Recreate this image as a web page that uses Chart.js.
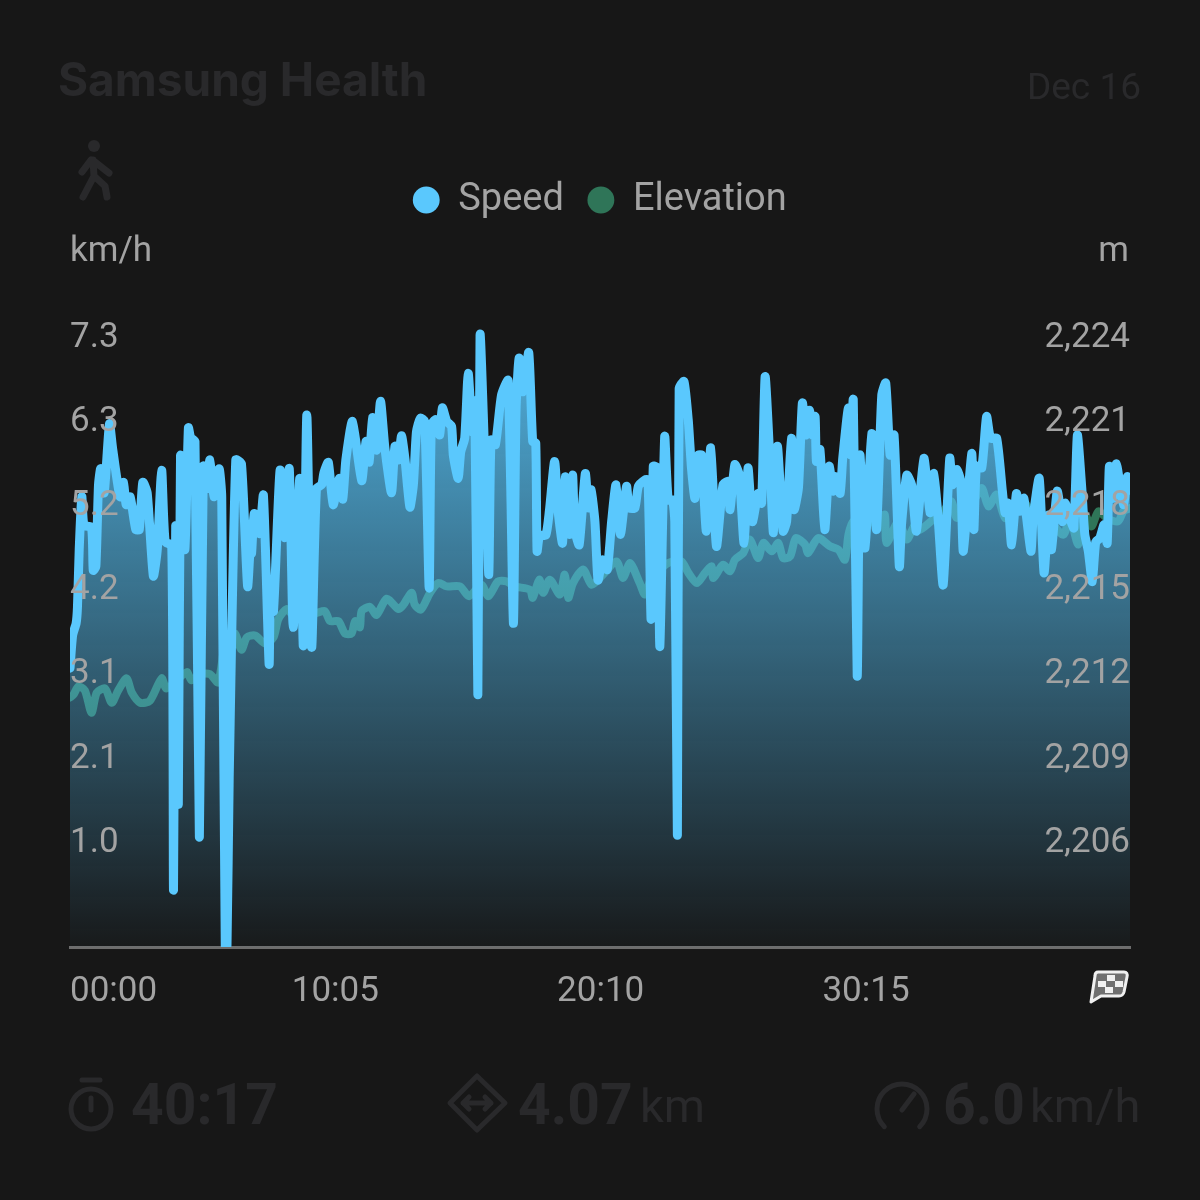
<!DOCTYPE html>
<html>
<head>
<meta charset="utf-8">
<title>Speed and elevation</title>
<script src="https://cdn.jsdelivr.net/npm/chart.js@4"></script>
<style>
  html, body { margin: 0; background: #171717; }
  canvas { display: block; }
</style>
</head>
<body>
<canvas id="chart" width="1200" height="1200" style="width:1200px;height:1200px"></canvas>
<script>
const speedTickValues = [1.05, 2.1, 3.15, 4.2, 5.25, 6.3, 7.35];
const speedTickLabels = ["1.0", "2.1", "3.1", "4.2", "5.2", "6.3", "7.3"];
const elevationTickValues = [2206, 2209, 2212, 2215, 2218, 2221, 2224];
const elevationTickLabels = ["2,206", "2,209", "2,212", "2,215", "2,218", "2,221", "2,224"];
const timeTickValues = [0, 605, 1210, 1815, 2417];
const timeTickLabels = ["00:00", "10:05", "20:10", "30:15", ""];

// seconds since start
const speedTimes = [
  0, 6, 14, 17, 21, 27, 32, 49, 53, 59, 65, 70, 78, 90, 97, 114, 122, 128, 137, 150,
  158, 166, 176, 190, 199, 209, 217, 232, 236, 241, 247, 252, 262, 270, 275, 285, 295, 304, 312, 319,
  328, 340, 346, 354, 358, 363, 378, 391, 405, 412, 414, 420, 432, 441, 454, 457, 464, 479, 490, 500,
  509, 524, 532, 540, 551, 562, 574, 579, 589, 600, 614, 622, 629, 644, 665, 675, 682, 690, 699, 708,
  718, 733, 741, 749, 756, 764, 775, 783, 790, 799, 809, 819, 824, 834, 843, 849, 859, 870, 874, 885,
  891, 900, 908, 917, 923, 930, 935, 946, 955, 960, 970, 984, 999, 1011, 1017, 1024, 1033, 1046, 1055, 1062,
  1065, 1071, 1085, 1093, 1105, 1113, 1123, 1129, 1140, 1146, 1151, 1161, 1175, 1182, 1188, 1197, 1204, 1214, 1225, 1235,
  1245, 1255, 1269, 1275, 1288, 1296, 1311, 1318, 1325, 1330, 1339, 1345, 1356, 1364, 1374, 1379, 1385, 1389, 1400, 1410,
  1417, 1425, 1433, 1440, 1451, 1461, 1474, 1489, 1501, 1505, 1516, 1526, 1537, 1546, 1556, 1569, 1577, 1585, 1596, 1604,
  1613, 1626, 1634, 1645, 1651, 1661, 1670, 1678, 1686, 1693, 1699, 1702, 1710, 1721, 1731, 1740, 1746, 1756, 1762, 1775,
  1780, 1786, 1795, 1801, 1813, 1828, 1839, 1851, 1860, 1870, 1879, 1891, 1896, 1908, 1919, 1930, 1947, 1961, 1970, 1980,
  1991, 2006, 2012, 2022, 2031, 2037, 2056, 2061, 2067, 2079, 2090, 2099, 2113, 2126, 2132, 2139, 2147, 2158, 2166, 2175,
  2191, 2196, 2210, 2221, 2231, 2238, 2251, 2263, 2269, 2280, 2289, 2297, 2307, 2314, 2322, 2331, 2339, 2348, 2358, 2365,
  2370, 2379, 2386, 2402, 2411, 2417
];
const speedValues = [
  3.48, 3.89, 4.04, 4.24, 4.96, 5.62, 5.26, 5.24, 4.70, 4.75, 5.77, 5.97, 5.67, 6.53, 6.23, 5.62, 5.80, 5.52, 5.62, 5.21,
  5.21, 5.80, 5.67, 4.63, 4.96, 5.95, 5.06, 5.01, 0.71, 5.26, 1.78, 6.13, 4.96, 6.48, 6.36, 6.31, 1.37, 6.00, 5.72, 6.08,
  5.62, 5.97, 5.62, 0.02, 0.02, 2.11, 6.08, 6.03, 4.50, 5.11, 4.91, 5.41, 5.16, 5.64, 3.53, 4.45, 4.19, 5.95, 5.11, 5.97,
  3.99, 5.85, 3.76, 6.64, 3.74, 5.72, 5.77, 5.92, 6.05, 5.52, 5.85, 5.59, 6.08, 6.56, 5.82, 6.31, 6.05, 6.61, 6.20, 6.81,
  6.23, 5.67, 6.25, 6.08, 6.38, 6.08, 5.49, 5.77, 6.43, 6.60, 6.56, 4.48, 6.52, 6.58, 6.39, 6.73, 6.56, 6.50, 6.14, 5.85,
  6.18, 6.35, 7.16, 6.43, 6.81, 3.15, 7.64, 6.06, 4.65, 6.33, 6.27, 6.89, 7.07, 4.04, 6.68, 7.35, 6.93, 7.42, 6.31, 6.29,
  4.94, 5.14, 5.14, 5.44, 6.06, 5.44, 5.04, 5.87, 5.15, 5.89, 5.21, 5.02, 5.91, 5.48, 5.71, 5.31, 4.58, 4.83, 4.71, 5.31,
  5.77, 5.15, 5.75, 5.48, 5.48, 5.75, 5.83, 5.83, 4.09, 6.00, 5.98, 3.75, 6.37, 5.58, 5.58, 5.31, 1.40, 6.97, 7.06, 6.56,
  5.98, 5.60, 6.14, 6.14, 5.19, 6.23, 5.00, 5.77, 5.81, 5.46, 6.02, 5.89, 5.04, 5.98, 5.31, 5.66, 5.54, 7.12, 6.06, 5.17,
  6.25, 5.19, 5.31, 6.35, 5.46, 5.73, 6.79, 6.39, 6.70, 6.39, 6.62, 6.06, 6.21, 5.21, 6.00, 5.69, 5.87, 5.66, 6.10, 6.73,
  6.14, 6.83, 3.38, 6.14, 4.98, 6.41, 5.21, 6.89, 7.04, 6.14, 6.39, 4.75, 5.27, 5.89, 5.77, 5.19, 6.10, 5.42, 5.91, 5.31,
  4.52, 6.10, 5.77, 5.96, 5.81, 4.94, 6.16, 5.21, 6.00, 5.98, 6.62, 6.35, 6.35, 5.69, 5.42, 5.54, 5.02, 5.66, 5.44, 5.60,
  4.94, 5.35, 5.85, 4.67, 5.39, 4.96, 5.69, 5.31, 5.54, 5.35, 5.23, 6.39, 5.73, 5.15, 4.94, 4.56, 5.06, 5.10, 5.27, 5.04,
  6.00, 5.60, 6.03, 5.52, 5.87, 5.70
];

const elevationTimes = [
  0, 8, 19, 34, 49, 61, 80, 95, 110, 129, 141, 160, 182, 209, 220, 266, 277, 296, 319, 338,
  357, 376, 391, 403, 422, 445, 464, 475, 494, 509, 562, 581, 593, 612, 627, 642, 650, 661, 665, 684,
  699, 722, 749, 760, 779, 786, 800, 821, 840, 859, 889, 910, 938, 954, 976, 995, 1014, 1049, 1055, 1070,
  1079, 1094, 1117, 1128, 1136, 1147, 1170, 1189, 1208, 1246, 1261, 1277, 1299, 1311, 1326, 1364, 1394, 1410, 1429, 1448,
  1463, 1467, 1489, 1505, 1516, 1535, 1550, 1569, 1581, 1600, 1615, 1626, 1642, 1655, 1676, 1683, 1706, 1733, 1752, 1767,
  1775, 1786, 1824, 1843, 1858, 1862, 1889, 1908, 1927, 1938, 1972, 1991, 2010, 2022, 2044, 2060, 2079, 2094, 2113, 2132,
  2151, 2174, 2196, 2227, 2265, 2280, 2299, 2314, 2329, 2345, 2364, 2390, 2402, 2417
];
const elevationValues = [
  2211.9, 2212.0, 2212.29, 2212.15, 2211.35, 2212.07, 2212.22, 2211.71, 2212.15, 2212.58, 2212.07, 2211.71, 2211.78, 2212.58, 2212.22, 2212.8, 2212.51, 2212.73, 2212.73, 2212.44,
  2214.11, 2214.18, 2213.6, 2214.04, 2214.11, 2213.82, 2214.04, 2214.69, 2215.05, 2214.84, 2214.91, 2214.98, 2214.62, 2214.62, 2214.18, 2214.18, 2214.62, 2214.4, 2214.98, 2215.13,
  2214.84, 2215.42, 2215.05, 2215.2, 2215.63, 2215.21, 2215.03, 2215.63, 2215.98, 2215.86, 2215.86, 2215.51, 2215.92, 2215.51, 2216.04, 2216.04, 2215.86, 2215.74, 2215.45, 2216.1,
  2215.63, 2216.1, 2215.57, 2216.28, 2215.45, 2215.98, 2216.46, 2215.92, 2216.16, 2216.75, 2216.16, 2216.69, 2215.98, 2215.57, 2216.16, 2216.69, 2216.75, 2216.34, 2215.98, 2216.34,
  2216.58, 2216.16, 2216.63, 2216.4, 2216.81, 2217.05, 2217.53, 2216.87, 2217.41, 2217.11, 2217.41, 2216.87, 2216.93, 2217.58, 2217.35, 2217.05, 2217.58, 2217.29, 2217.17, 2216.81,
  2217.7, 2218.18, 2218.3, 2217.94, 2218.42, 2217.41, 2218.18, 2217.53, 2218.06, 2217.88, 2218.3, 2218.54, 2218.89, 2218.3, 2218.65, 2218.89, 2219.37, 2218.71, 2219.13, 2218.3,
  2218.6, 2218.89, 2218.42, 2218.3, 2217.7, 2218.3, 2217.35, 2218.42, 2218.0, 2218.54, 2218.3, 2218.18, 2218.54, 2218.65
];

const seriesNames = ["Speed", "Elevation"];
const seriesColors = ["#5ac8fd", "#2f7558"];
const unitLeft = "km/h";
const unitRight = "m";
const greyText = "#a3a3a3";
const faintText = "#29292b";

const toPoints = (xs, ys) => xs.map((x, i) => ({ x, y: ys[i] }));

function speedFill(context) {
  const area = context.chart.chartArea;
  if (!area) return "rgba(90,200,253,0.4)";
  const g = context.chart.ctx.createLinearGradient(0, area.top, 0, area.bottom);
  g.addColorStop(0, "rgba(90,200,253,0.95)");
  g.addColorStop(1, "rgba(90,200,253,0.02)");
  return g;
}

// faint header, footer and icons behind the chart text
const decorations = {
  id: "decorations",
  afterDraw(chart) {
    const c = chart.ctx;
    c.save();
    c.textBaseline = "middle";
    c.fillStyle = faintText;
    c.strokeStyle = faintText;
    c.lineCap = "round";
    c.lineJoin = "round";

    c.font = "700 46px Inter";
    c.fillText("Samsung Health", 58, 82);
    c.font = "37px Roboto";
    c.textAlign = "right";
    c.fillText("Dec 16", 1141, 90);

    c.font = "35px Roboto";
    c.fillStyle = greyText;
    c.fillText(unitRight, 1129, 252);
    c.fillStyle = faintText;

    c.textAlign = "left";
    c.font = "700 57px Roboto";
    c.fillText("40:17", 131, 1110);
    c.fillText("4.07", 518, 1110);
    c.fillText("6.0", 943, 1110);
    c.font = "47px Roboto";
    c.fillText("km", 640, 1110);
    c.fillText("km/h", 1030, 1110);

    // walker
    c.beginPath();
    c.arc(94, 146, 6, 0, Math.PI * 2);
    c.fill();
    c.lineWidth = 7;
    c.beginPath();
    c.moveTo(93, 160); c.lineTo(94, 176); c.lineTo(83, 197);
    c.moveTo(94, 176); c.lineTo(105, 186); c.lineTo(107, 197);
    c.moveTo(91, 160); c.lineTo(82, 172);
    c.moveTo(95, 162); c.lineTo(109, 173);
    c.stroke();

    // stopwatch
    c.lineWidth = 5;
    c.beginPath();
    c.arc(91, 1109, 20, 0, Math.PI * 2);
    c.moveTo(82, 1080); c.lineTo(100, 1080);
    c.moveTo(91, 1098); c.lineTo(91, 1110);
    c.stroke();

    // distance diamond
    c.beginPath();
    c.moveTo(477, 1076); c.lineTo(505, 1103); c.lineTo(477, 1130); c.lineTo(450, 1103); c.closePath();
    c.moveTo(463, 1103); c.lineTo(491, 1103);
    c.moveTo(469, 1097); c.lineTo(463, 1103); c.lineTo(469, 1109);
    c.moveTo(485, 1097); c.lineTo(491, 1103); c.lineTo(485, 1109);
    c.stroke();

    // gauge
    c.beginPath();
    c.arc(902, 1109, 25, Math.PI * 0.75, Math.PI * 2.25);
    c.moveTo(902, 1110); c.lineTo(914, 1094);
    c.stroke();

    // finish flag
    c.fillStyle = "#6f6f6f";
    c.strokeStyle = "#f0f0f0";
    c.lineWidth = 3;
    c.beginPath();
    c.moveTo(1098, 972); c.lineTo(1124, 972); c.quadraticCurveTo(1128, 972, 1127, 977);
    c.lineTo(1124, 992); c.quadraticCurveTo(1123, 996, 1119, 996);
    c.lineTo(1101, 996); c.lineTo(1091, 1002); c.lineTo(1095, 976);
    c.quadraticCurveTo(1095, 972, 1098, 972);
    c.closePath();
    c.fill();
    c.stroke();
    c.fillStyle = "#f0f0f0";
    c.fillRect(1107, 975, 8, 6);
    c.fillRect(1098, 981, 8, 6);
    c.fillRect(1115, 981, 8, 6);
    c.fillRect(1105, 987, 8, 6);
    c.restore();
  }
};

new Chart(document.getElementById("chart"), {
  type: "line",
  data: {
    datasets: [
      {
        label: seriesNames[0],
        data: toPoints(speedTimes, speedValues),
        yAxisID: "ySpeed",
        borderColor: seriesColors[0],
        backgroundColor: speedFill,
        borderWidth: 9,
        fill: "origin",
        tension: 0.2,
        pointRadius: 0,
        borderJoinStyle: "round",
        borderCapStyle: "round"
      },
      {
        label: seriesNames[1],
        data: toPoints(elevationTimes, elevationValues),
        yAxisID: "yElevation",
        borderColor: seriesColors[1],
        backgroundColor: seriesColors[1],
        borderWidth: 8,
        fill: false,
        tension: 0.25,
        pointRadius: 0,
        borderJoinStyle: "round",
        borderCapStyle: "round"
      }
    ]
  },
  options: {
    responsive: false,
    devicePixelRatio: 1,
    animation: false,
    parsing: false,
    normalized: true,
    layout: { padding: { left: 70, right: 70, top: 157, bottom: 0 } },
    plugins: {
      tooltip: { enabled: false },
      legend: {
        position: "top",
        labels: {
          color: greyText,
          font: { family: "Roboto", size: 38 },
          usePointStyle: true,
          pointStyle: "circle",
          boxWidth: 26,
          boxHeight: 19,
          padding: 24,
          generateLabels: chart =>
            Chart.defaults.plugins.legend.labels.generateLabels(chart).map((item, i) => ({
              ...item,
              fillStyle: seriesColors[i],
              strokeStyle: seriesColors[i],
              lineWidth: 0
            }))
        }
      },
      title: {
        display: true,
        text: unitLeft,
        align: "start",
        position: "top",
        weight: 500,
        color: greyText,
        font: { family: "Roboto", size: 35, weight: "normal" },
        padding: { top: 2, bottom: 1 }
      }
    },
    scales: {
      x: {
        type: "linear",
        min: 0,
        max: 2417,
        afterBuildTicks: scale => { scale.ticks = timeTickValues.map(value => ({ value })); },
        afterFit: scale => { scale.height = 253; },
        grid: { display: false, drawTicks: false },
        border: { display: true, color: "#6d6d6d", width: 3 },
        ticks: {
          autoSkip: false,
          maxRotation: 0,
          align: "inner",
          padding: 24,
          color: greyText,
          font: { family: "Roboto", size: 35 },
          callback: (value, i) => timeTickLabels[i]
        }
      },
      ySpeed: {
        type: "linear",
        position: "left",
        min: 0,
        max: 8.4,
        afterBuildTicks: scale => { scale.ticks = speedTickValues.map(value => ({ value })); },
        afterFit: scale => { scale.width = 0; },
        grid: { display: false, drawTicks: false },
        border: { display: false },
        ticks: {
          autoSkip: false,
          mirror: true,
          z: 1,
          padding: 0,
          color: greyText,
          font: { family: "Roboto", size: 35, lineHeight: "40px" },
          // the empty second line lifts each label above its tick, as in the app
          callback: (value, i) => [speedTickLabels[i], ""]
        }
      },
      yElevation: {
        type: "linear",
        position: "right",
        min: 2203,
        max: 2227,
        afterBuildTicks: scale => { scale.ticks = elevationTickValues.map(value => ({ value })); },
        afterFit: scale => { scale.width = 0; },
        grid: { display: false, drawTicks: false },
        border: { display: false },
        ticks: {
          autoSkip: false,
          mirror: true,
          z: 1,
          padding: 0,
          color: greyText,
          font: { family: "Roboto", size: 35, lineHeight: "40px" },
          callback: (value, i) => [elevationTickLabels[i], ""]
        }
      }
    }
  },
  plugins: [decorations]
});
</script>
</body>
</html>
